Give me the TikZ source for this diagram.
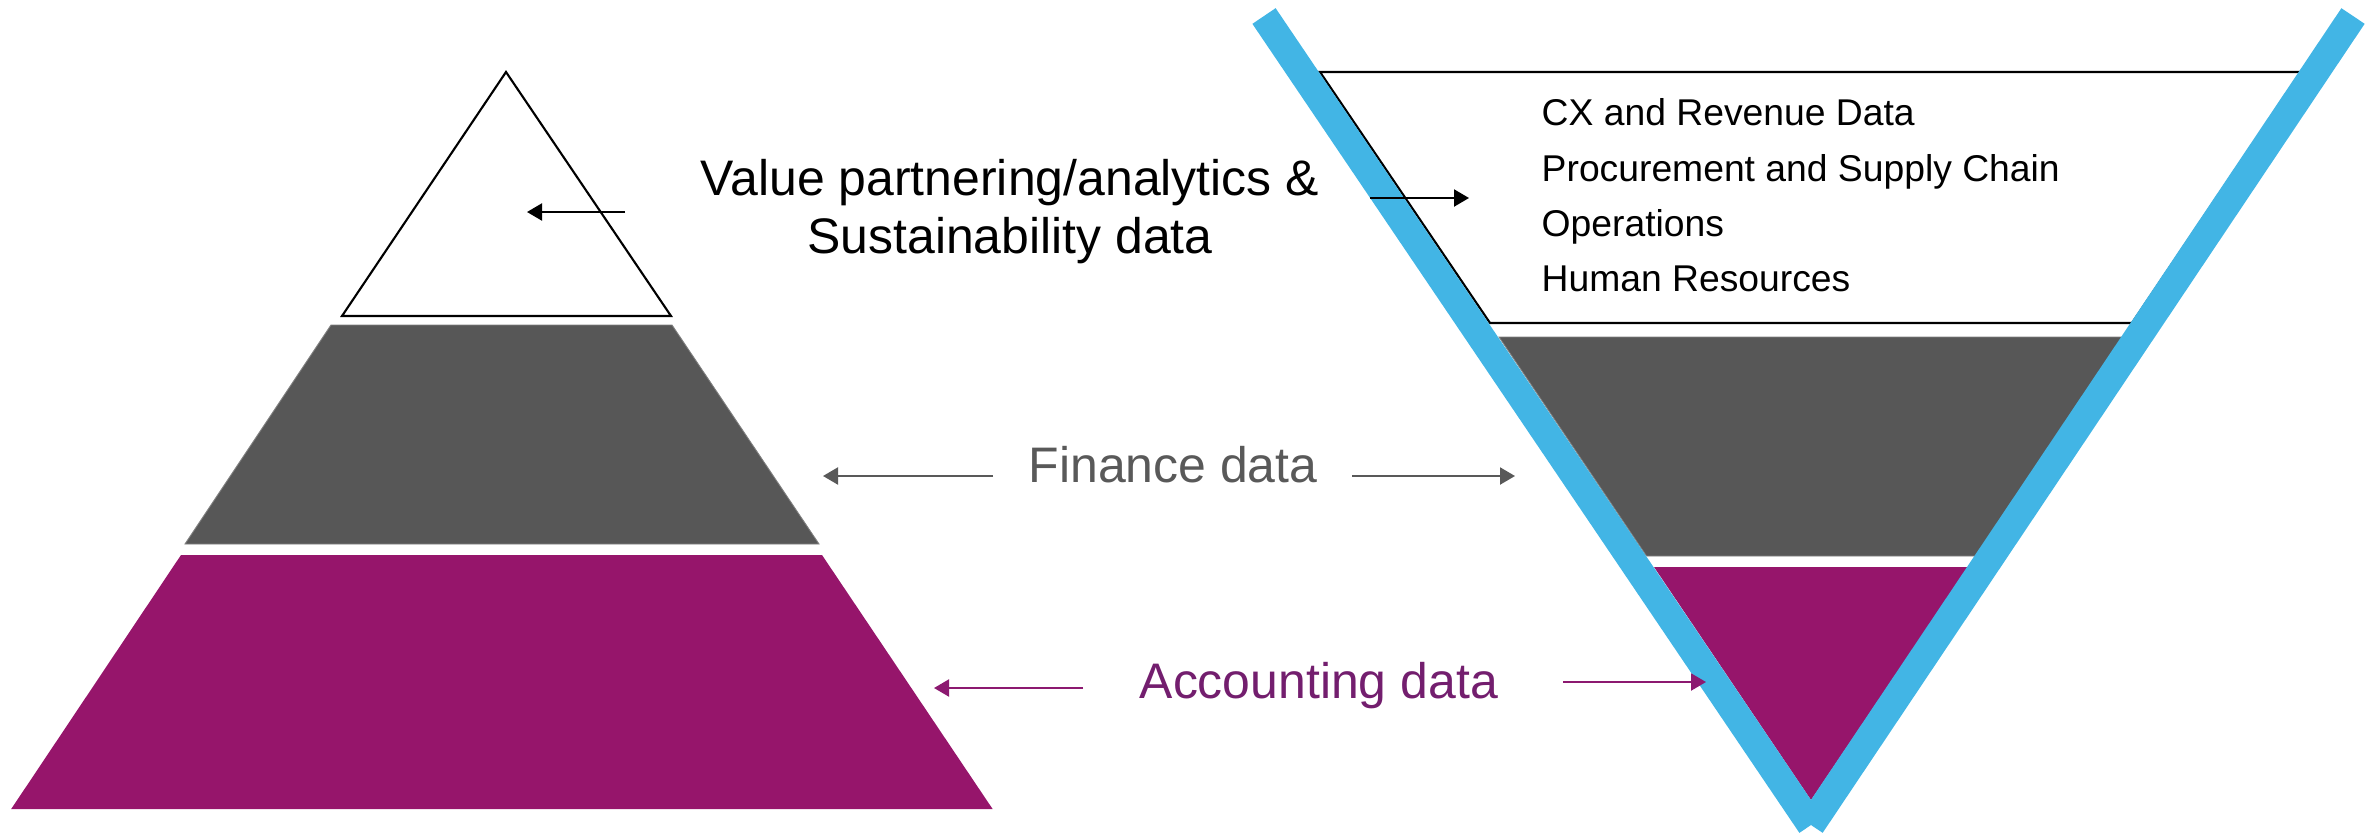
\documentclass[tikz,border=0pt]{standalone}
\usepackage{fontspec}
\setmainfont{Liberation Sans}
\usetikzlibrary{arrows.meta}
\definecolor{bandgray}{RGB}{87,87,87}
\definecolor{bandgrayedge}{RGB}{128,128,128}
\definecolor{bandpurple}{RGB}{150,21,107}
\definecolor{vblue}{RGB}{66,181,229}
\definecolor{fintext}{RGB}{89,89,89}
\definecolor{acctext}{RGB}{115,30,110}
\definecolor{accarrow}{RGB}{140,25,112}
\begin{document}
\begin{tikzpicture}[x=0.01cm,y=-0.01cm,
  conn/.style={line width=0.6pt,-{Triangle[length=0.15cm,width=0.17cm]}},
  lbl/.style={inner sep=0pt,font=\fontsize{14.2}{16.8}\selectfont},
  listlbl/.style={inner sep=0pt,anchor=base west,font=\fontsize{10.6}{12.7}\selectfont},
  whiteband/.style={fill=white,draw=black,line width=0.6pt,line join=miter},
  grayband/.style={fill=bandgray,draw=bandgrayedge,line width=0.25pt},
  purpleband/.style={fill=bandpurple},
  vline/.style={draw=vblue,line width=7.97pt,line cap=butt}]
\useasboundingbox (0,0) rectangle (2376,833);

% ---- left pyramid ----
\draw[whiteband] (506,72) -- (671,316) -- (342,316) -- cycle;
\draw[grayband] (331,325) -- (672,325) -- (819,544) -- (185,544) -- cycle;
\fill[purpleband] (181,555) -- (822,555) -- (992.6,809) -- (11.2,809) -- cycle;

% ---- right inverted pyramid ----
\draw[whiteband] (1320,72) -- (2301,72) -- (2132,323) -- (1490,323) -- cycle;
\draw[grayband] (1499,337) -- (2123,337) -- (1975.5,556) -- (1646.5,556) -- cycle;
\fill[purpleband] (1654,567) -- (1968,567) -- (1811,800) -- cycle;

% ---- blue V ----
\coordinate (vl) at (1264,16);
\coordinate (vb) at (1811,825);
\coordinate (vr) at (2353,16);
\draw[vline] (vl) -- (vb);
\draw[vline] (vr) -- (vb);

% ---- labels ----
\node[lbl,anchor=base] (val1) at (1010,195) {Value partnering/analytics \&};
\node[lbl,anchor=base] (val2) at (1010,253) {Sustainability data};
\node[lbl,anchor=base west,text=fintext] (fin) at (1028,482) {Finance data};
\node[lbl,anchor=base west,text=acctext] (acc) at (1139,698) {Accounting data};

\node[listlbl] (l1) at (1541,125.5) {CX and Revenue Data};
\node[listlbl] (l2) at (1541,181) {Procurement and Supply Chain};
\node[listlbl] (l3) at (1541,236.5) {Operations};
\node[listlbl] (l4) at (1541,291.7) {Human Resources};

% ---- arrow end points ----
\coordinate (vaS) at (625,212);  \coordinate (vaE) at (527,212);
\coordinate (vbS) at (1370,198); \coordinate (vbE) at (1469,198);
\coordinate (faS) at (993,476);  \coordinate (faE) at (823,476);
\coordinate (fbS) at (1352,476); \coordinate (fbE) at (1515,476);
\coordinate (aaS) at (1083,688); \coordinate (aaE) at (934,688);
\coordinate (abS) at (1563,682); \coordinate (abE) at (1706,682);

\draw[conn,black] (vaS) -- (vaE);
\draw[conn,black] (vbS) -- (vbE);
\draw[conn,fintext] (faS) -- (faE);
\draw[conn,fintext] (fbS) -- (fbE);
\draw[conn,accarrow] (aaS) -- (aaE);
\draw[conn,accarrow] (abS) -- (abE);
\end{tikzpicture}
\end{document}
